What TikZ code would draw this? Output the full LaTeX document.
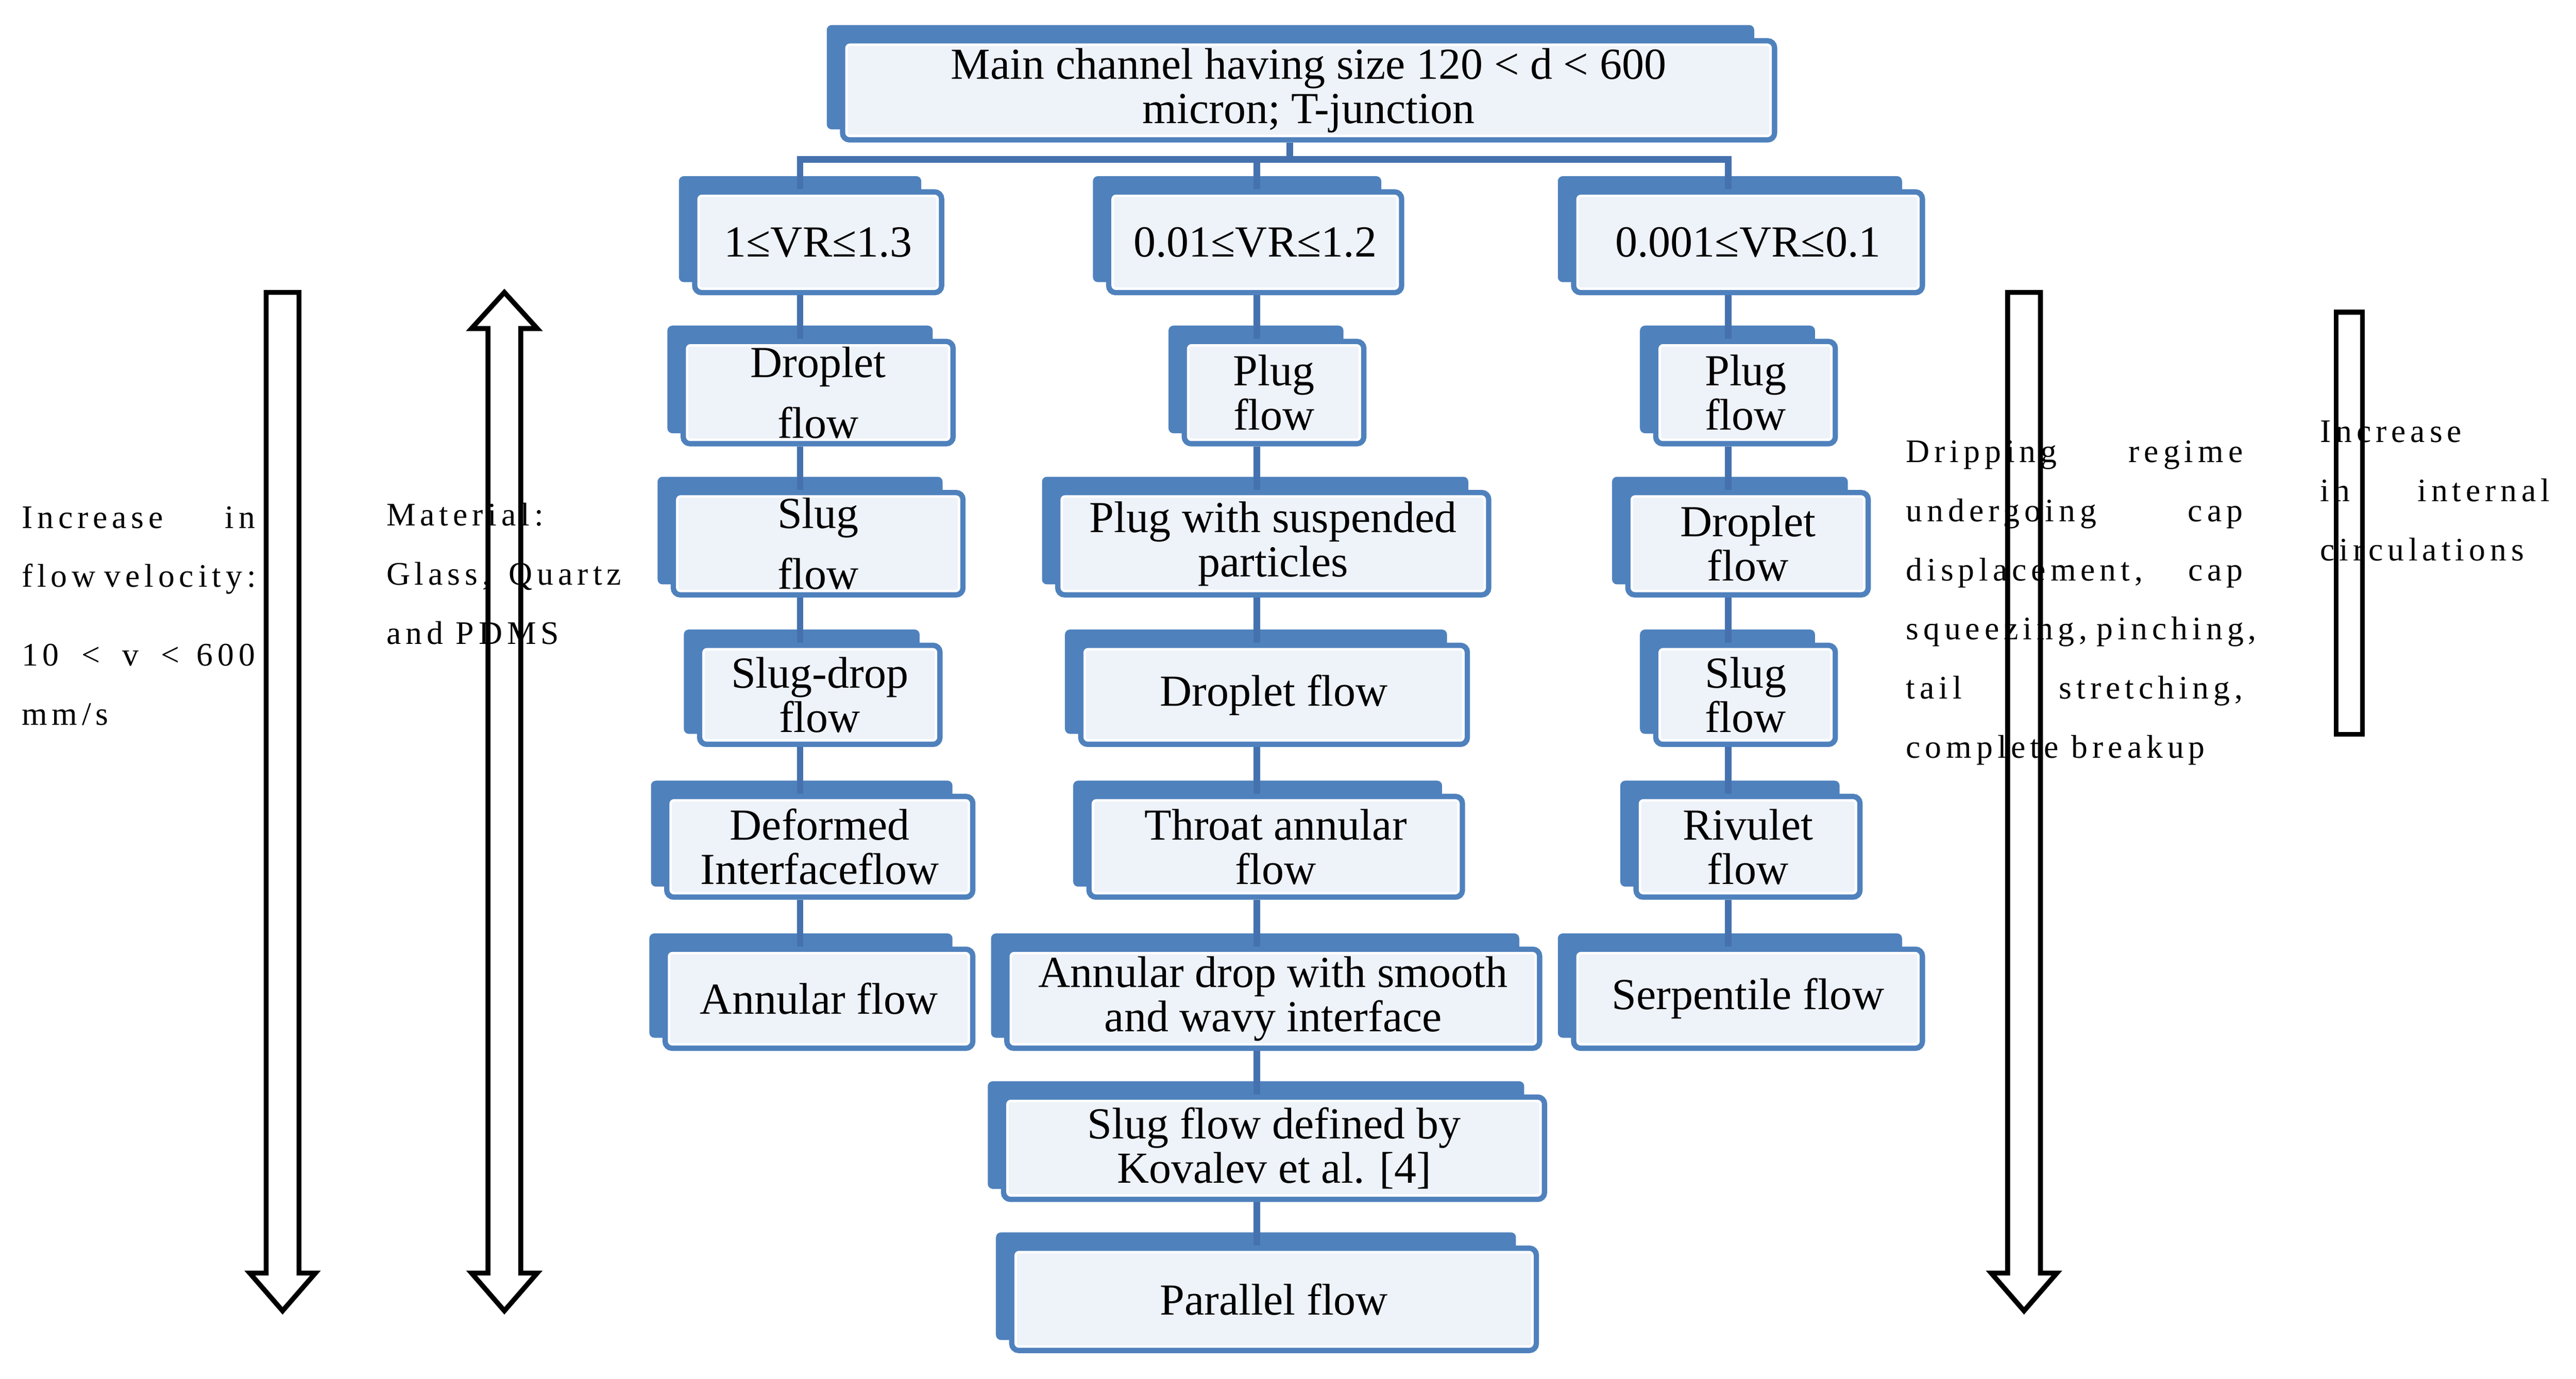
\documentclass[tikz,border=0pt]{standalone}
\usepackage{fontspec}
\setmainfont{Liberation Serif}
\newfontfamily\sidefont{Liberation Serif}[LetterSpace=14]
\usetikzlibrary{backgrounds,calc}
\definecolor{bback}{HTML}{4F81BD}
\definecolor{bfill}{HTML}{EEF2F9}
\definecolor{conn}{HTML}{4572AE}
\tikzset{
  box/.style={rounded corners=4pt, fill=bfill, draw=bback, line width=3.5pt, align=center, inner sep=1pt,
    font=\fontsize{27}{27}\selectfont},
  con/.style={draw=conn, line width=4pt},
  side/.style={font=\sidefont\fontsize{20}{36}\selectfont, execute at begin node={\hyphenpenalty=10000\relax},
    align=justify, anchor=north west, inner sep=0pt},
  harrow/.style={draw=black, line width=3pt, fill=white, line join=miter}
}
\newcommand\bx[6]{%
  \node[box, minimum width=#4pt, minimum height=#5pt] (#1) at (#2,#3) {#6};
  \draw[white, line width=1.5pt, rounded corners=2pt] ($(#1.north west)+(4,4)$) rectangle ($(#1.south east)+(-4,-4)$);
  \begin{scope}[on background layer]
    \fill[bback, rounded corners=3pt] ($(#1.north west)+(-8,-8)$) rectangle ($(#1.south east)+(-14,-8)$);
  \end{scope}}
\begin{document}
\begin{tikzpicture}[x=1pt,y=-1pt]
\useasboundingbox (0,0) rectangle (1568,839.4);
% hollow arrows
\draw[harrow] (162,178) -- (182,178) -- (182,775) -- (192,775) -- (172,798) -- (152,775) -- (162,775) -- cycle;
\draw[harrow] (1222,178) -- (1242,178) -- (1242,775) -- (1252,775) -- (1232,798) -- (1212,775) -- (1222,775) -- cycle;
\draw[harrow] (307,178) -- (327,200) -- (317,200) -- (317,775) -- (327,775) -- (307,798) -- (287,775) -- (297,775) -- (297,200) -- (287,200) -- cycle;
\draw[harrow] (1422,190) rectangle (1438,447);
% boxes
\bx{main}{796.5}{55}{567}{60}{Main channel having size 120 < d < 600\\micron; T-junction}
\bx{vr1}{498}{147.5}{150}{61}{1≤VR≤1.3}
\bx{vr2}{764}{147.5}{178}{61}{0.01≤VR≤1.2}
\bx{vr3}{1064}{147.5}{212}{61}{0.001≤VR≤0.1}
\bx{a1}{498}{239}{164}{62}{Droplet\\[10pt]flow}
\bx{a2}{498}{331}{176}{62}{Slug\\[10pt]flow}
\bx{a3}{499}{423}{146}{60}{Slug-drop\\flow}
\bx{a4}{499}{515.5}{186}{61}{Deformed\\Interfaceflow}
\bx{a5}{498.5}{608}{187}{60}{Annular flow}
\bx{b1}{775.5}{239}{109}{62}{Plug\\flow}
\bx{b2}{775}{331}{262}{62}{Plug with suspended\\particles}
\bx{b3}{775.5}{423}{235}{60}{Droplet flow}
\bx{b4}{776.5}{515.5}{227}{61}{Throat annular\\flow}
\bx{b5}{775}{608}{324}{60}{Annular drop with smooth\\and wavy interface}
\bx{b6}{775.5}{699}{329}{62}{Slug flow defined by\\Kovalev et al. [4]}
\bx{b7}{775.5}{791}{319}{62}{Parallel flow}
\bx{c1}{1062.5}{239}{109}{62}{Plug\\flow}
\bx{c2}{1064}{331}{146}{62}{Droplet\\flow}
\bx{c3}{1062.5}{423}{109}{60}{Slug\\flow}
\bx{c4}{1064}{515.5}{136}{61}{Rivulet\\flow}
\bx{c5}{1064}{608}{212}{60}{Serpentile flow}
% connectors
\coordinate (bus) at (785,97);
\coordinate (k1) at (487,0);
\coordinate (k2) at (765,0);
\coordinate (k3) at (1052,0);
\begin{scope}[on background layer]
\draw[con] (main.south -| bus) -- (bus);
\draw[con] (vr1.north -| k1) |- (bus) -| (vr3.north -| k3);
\draw[con] (bus -| k2) -- (vr2.north -| k2);
\draw[con] (vr1.south -| k1) -- (a1.north -| k1) (a1.south -| k1) -- (a2.north -| k1) (a2.south -| k1) -- (a3.north -| k1) (a3.south -| k1) -- (a4.north -| k1) (a4.south -| k1) -- (a5.north -| k1);
\draw[con] (vr2.south -| k2) -- (b1.north -| k2) (b1.south -| k2) -- (b2.north -| k2) (b2.south -| k2) -- (b3.north -| k2) (b3.south -| k2) -- (b4.north -| k2) (b4.south -| k2) -- (b5.north -| k2) (b5.south -| k2) -- (b6.north -| k2) (b6.south -| k2) -- (b7.north -| k2);
\draw[con] (vr3.south -| k3) -- (c1.north -| k3) (c1.south -| k3) -- (c2.north -| k3) (c2.south -| k3) -- (c3.north -| k3) (c3.south -| k3) -- (c4.north -| k3) (c4.south -| k3) -- (c5.north -| k3);
\end{scope}
% side texts
\node[side, text width=142pt] (t1) at (13,308) {Increase in flow velocity:\\[12pt]10 \,<\, v \,< 600 mm/s};
\node[side, text width=143pt] (t2) at (235,306) {Material: Glass, Quartz and PDMS};
\node[side, text width=205pt] (t3) at (1160,268) {Dripping regime undergoing cap displacement, cap squeezing, pinching, tail stretching, complete breakup};
\node[side, text width=140pt] (t4) at (1412,256) {Increase in internal circulations};
\end{tikzpicture}
\end{document}
